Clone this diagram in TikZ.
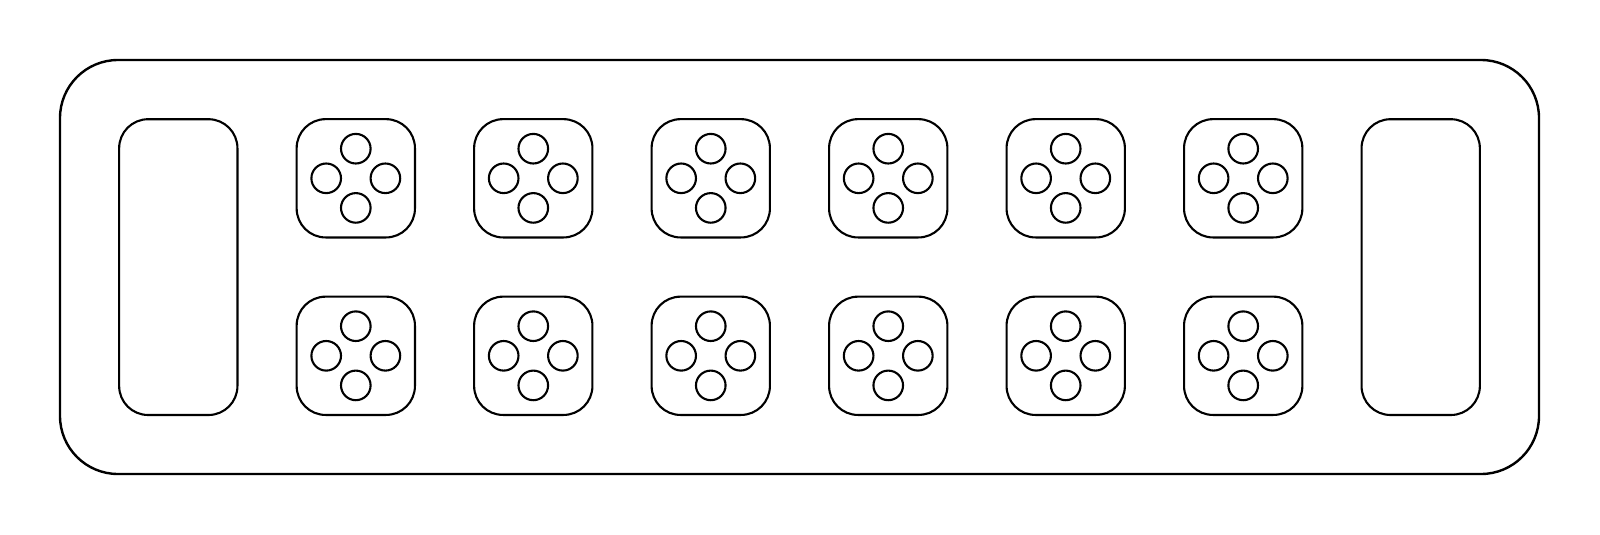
\documentclass[tikz,border=0pt]{standalone}
\begin{document}
\begin{tikzpicture}[x=1pt,y=-1pt,line width=2.1pt,
  board/.style={draw,line width=2.4pt,rounded corners=58pt,minimum width=1479pt,minimum height=414pt,inner sep=0pt},
  store/.style={draw,rounded corners=29pt,minimum width=118.3pt,minimum height=295.8pt,inner sep=0pt},
  pit/.style={draw,rounded corners=29pt,minimum size=118.3pt,inner sep=0pt},
  seed/.style={draw,circle,minimum size=29.6pt,inner sep=0pt}]
\useasboundingbox (0,0) rectangle (1600,535);
\node[board] (B) at (799.5,267) {};
\node[store] (SL) at (178.3,267.1) {};
\node[store] (SR) at (1420.7,267.1) {};
\foreach \i in {0,...,5}{
  \foreach \r/\yy in {t/178.3,b/355.8}{
    \pgfmathsetmacro{\xx}{355.8+177.48*\i}
    \node[pit] (P\r\i) at (\xx,\yy) {};
    \node[seed] (P\r\i n) at ([yshift=29.6pt]P\r\i.center) {};
    \node[seed] (P\r\i s) at ([yshift=-29.6pt]P\r\i.center) {};
    \node[seed] (P\r\i w) at ([xshift=-29.6pt]P\r\i.center) {};
    \node[seed] (P\r\i e) at ([xshift=29.6pt]P\r\i.center) {};
  }
}
\end{tikzpicture}
\end{document}
